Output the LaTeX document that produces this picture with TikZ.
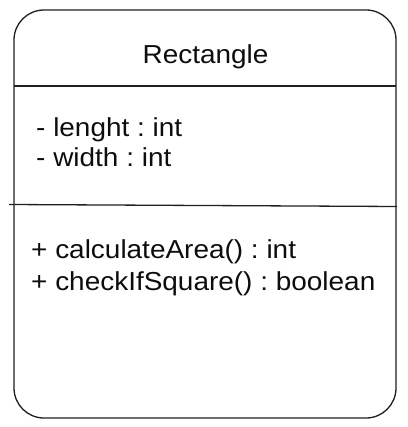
\documentclass[tikz,border=0pt]{standalone}
\usepackage{fontspec}
\setmainfont{Liberation Sans}[FakeStretch=1.075]
\frenchspacing
\begin{document}
\begin{tikzpicture}[x=1pt,y=-1pt,
  umlline/.style={line width=1.3pt,draw=black!88},
  umltext/.style={inner sep=0pt,anchor=base west,font=\fontsize{26}{31}\selectfont\frenchspacing,text=black!95}]
\useasboundingbox (0,0) rectangle (407,427);
\draw[umlline,rounded corners=30pt] (14,10) rectangle (396,418);
\coordinate (l1a) at (14,86);
\coordinate (l1b) at (396,86);
\coordinate (l2a) at (9,204.5);
\coordinate (l2b) at (397,206.5);
\draw[umlline] (l1a) -- (l1b);
\draw[umlline] (l2a) -- (l2b);
\node[umltext,anchor=base] (title) at (205.5,64) {Rectangle};
\node[umltext] (a1) at (36,137) {- lenght : int};
\node[umltext] (a2) at (36,167) {- width : int};
\node[umltext] (m1) at (31,258) {+ calculateArea() : int};
\node[umltext] (m2) at (31,290) {+ checkIfSquare() : boolean};
\end{tikzpicture}
\end{document}
